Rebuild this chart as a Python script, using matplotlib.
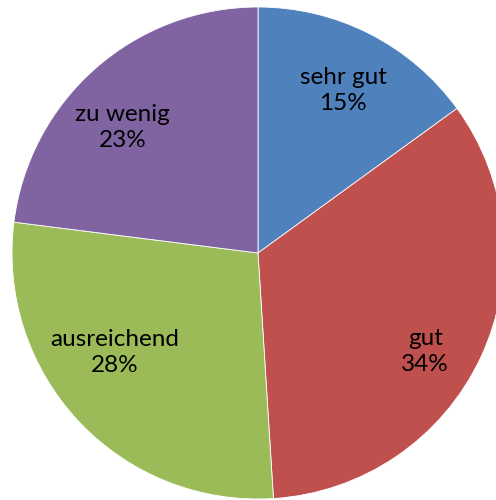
import matplotlib
matplotlib.use("Agg")
import matplotlib.pyplot as plt
import numpy as np

categories = ["sehr gut", "gut", "ausreichend", "zu wenig"]
shares = [15, 34, 28, 23]
colors = ["#4F81BD", "#C0504D", "#9BBB59", "#8064A2"]

# where each label sits: distance from centre and turn away from the wedge middle (deg)
label_dist = [0.745, 0.79, 0.71, 0.75]
label_turn = [-0.7, -5.4, -8.5, 5.8]

plt.rcParams["font.family"] = ["Lato", "DejaVu Sans"]

fig = plt.figure(figsize=(4.96, 5.0), dpi=100)
ax = fig.add_axes([12 / 496, 1 / 500, 492 / 496, 492 / 500])

wedges, texts = ax.pie(
    shares,
    colors=colors,
    startangle=90,
    counterclock=False,
    radius=1,
    wedgeprops=dict(edgecolor="white", linewidth=0.6),
)

total = sum(shares)
for w, name, val, d, turn in zip(wedges, categories, shares, label_dist, label_turn):
    mid = np.deg2rad((w.theta1 + w.theta2) / 2 + turn)
    ax.text(d * np.cos(mid), d * np.sin(mid),
            "%s\n%d%%" % (name, round(100 * val / total)),
            ha="center", va="center", fontsize=17.5, linespacing=1.3)

ax.set_xlim(-1, 1)
ax.set_ylim(-1, 1)
ax.set_aspect("equal")
ax.axis("off")

fig.savefig("out.png", dpi=100)
